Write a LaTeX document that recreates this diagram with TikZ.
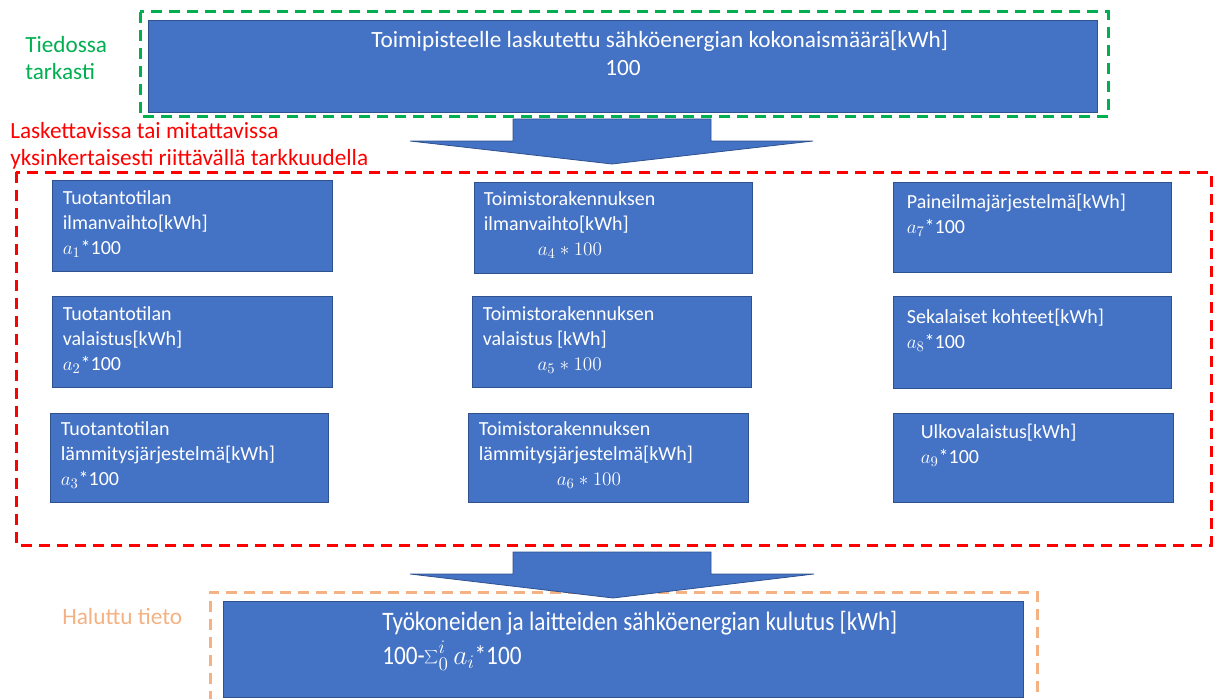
\documentclass[tikz,border=0pt]{standalone}
\usepackage[no-math]{fontspec}
\setmainfont{Carlito}
\newfontfamily\condfont{Carlito}[FakeStretch=0.87]
\usetikzlibrary{fit}

\definecolor{boxblue}{HTML}{4472C4}
\definecolor{boxedge}{HTML}{2F528F}
\definecolor{knowngreen}{HTML}{00B050}
\definecolor{calcred}{HTML}{FF0000}
\definecolor{wantorange}{HTML}{F4B183}

% invisible strut fixing the top of the first line of a text block
\newcommand{\firstline}{\rule{0pt}{12pt}}
\newcommand{\taglinetop}{\rule{0pt}{13pt}}

\tikzset{
  box/.style={draw=boxedge, line width=0.6pt, fill=boxblue, inner sep=0pt},
  boxtext/.style={text=white, anchor=north west, align=left, inner sep=0pt,
                  font=\fontsize{15}{18.75}\selectfont},
  region/.style={line width=2.25pt, dash pattern=on 8.25pt off 5.25pt},
  tag/.style={anchor=north west, align=left, inner sep=0pt,
              font=\fontsize{17.4}{20.25}\selectfont},
  bigarrow/.style={fill=boxblue, draw=boxedge, line width=0.6pt},
}

\begin{document}
\begin{tikzpicture}[x=0.75pt, y=-0.75pt]
  \clip (0,0) rectangle (1218,699);

  % ---------- known value ----------
  \draw[region, knowngreen] (140,12) rectangle (1108,117);
  \node[tag, text=knowngreen] (knownlbl) at (25,35) {\taglinetop Tiedossa\\tarkasti};
  \node[box, fit={(148,20) (1097,112)}] (total) {};
  \node[text=white, anchor=base west, inner sep=0pt, font=\fontsize{17.45}{21}\selectfont]
    (totaltitle) at (371,48) {Toimipisteelle laskutettu sähköenergian kokonaismäärä[kWh]};
  \node[text=white, anchor=base west, inner sep=0pt, font=\fontsize{17.45}{21}\selectfont]
    (totalvalue) at (605,76) {100};

  % ---------- measurable parts ----------
  \draw[region, calcred] (16,172) rectangle (1211,545);
  \node[tag, text=calcred] (calclbl) at (10,121)
    {\taglinetop Laskettavissa tai mitattavissa\\yksinkertaisesti riittävällä tarkkuudella};

  % first row
  \node[box, fit={(52,180) (332,271)}] (b1) {};
  \node[boxtext] (t1) at ([shift={(11,9)}]b1.north west)
    {\firstline Tuotantotilan\\ilmanvaihto[kWh]\\$a_1$*100};
  \node[box, fit={(474,182) (752,273)}] (b4) {};
  \node[boxtext] (t4) at ([shift={(10,8)}]b4.north west)
    {\firstline Toimistorakennuksen\\ilmanvaihto[kWh]\\\hspace*{40.5pt}$a_4\ast100$};
  \node[box, fit={(893,182) (1171,272)}] (b7) {};
  \node[boxtext] (t7) at ([shift={(14,11)}]b7.north west)
    {\firstline Paineilmajärjestelmä[kWh]\\$a_7$*100};

  % second row
  \node[box, fit={(52,296) (332,387)}] (b2) {};
  \node[boxtext] (t2) at ([shift={(11,9)}]b2.north west)
    {\firstline Tuotantotilan\\valaistus[kWh]\\$a_2$*100};
  \node[box, fit={(472,296) (751,387)}] (b5) {};
  \node[boxtext] (t5) at ([shift={(11,9)}]b5.north west)
    {\firstline Toimistorakennuksen\\valaistus [kWh]\\\hspace*{41pt}$a_5\ast100$};
  \node[box, fit={(893,296) (1171,388)}] (b8) {};
  \node[boxtext] (t8) at ([shift={(14,12)}]b8.north west)
    {\firstline Sekalaiset kohteet[kWh]\\$a_8$*100};

  % third row
  \node[box, fit={(50,413) (328,502)}] (b3) {};
  \node[boxtext] (t3) at ([shift={(11,7)}]b3.north west)
    {\firstline Tuotantotilan\\lämmitysjärjestelmä[kWh]\\$a_3$*100};
  \node[box, fit={(468,413) (748,502)}] (b6) {};
  \node[boxtext] (t6) at ([shift={(11,7)}]b6.north west)
    {\firstline Toimistorakennuksen\\lämmitysjärjestelmä[kWh]\\\hspace*{58.5pt}$a_6\ast100$};
  \node[box, fit={(893,413) (1173,502)}] (b9) {};
  \node[boxtext] (t9) at ([shift={(28,10)}]b9.north west)
    {\firstline Ulkovalaistus[kWh]\\$a_9$*100};

  % arrow from the known total down to the parts
  \draw[bigarrow] (513,119) -- (711,119) -- (711,141) -- (813,141)
    -- (612,164) -- (410,141) -- (513,141) -- cycle;

  % ---------- wanted value ----------
  \draw[region, wantorange] (210,720) -- (210,592) -- (1037,592) -- (1037,720);
  \node[anchor=base west, inner sep=0pt, text=wantorange, font=\fontsize{17.5}{21}\selectfont]
    (wantlbl) at (62,624) {Haluttu tieto};
  \node[box, fit={(223,601) (1023,697)}] (machines) {};
  \node[text=white, anchor=base west, inner sep=0pt, font=\condfont\fontsize{20}{24}\selectfont]
    (machtitle) at (382,630) {Työkoneiden ja laitteiden sähköenergian kulutus [kWh]};
  \node[text=white, anchor=base west, inner sep=0pt, font=\condfont\fontsize{20}{24}\selectfont]
    (machvalue) at (382,664) {100-$\sum_0^i a_i$*100};

  % arrow from the parts down to the wanted value
  \draw[bigarrow] (513,552) -- (711,552) -- (711,574) -- (814,574)
    -- (613,598) -- (410,574) -- (513,574) -- cycle;
\end{tikzpicture}
\end{document}
